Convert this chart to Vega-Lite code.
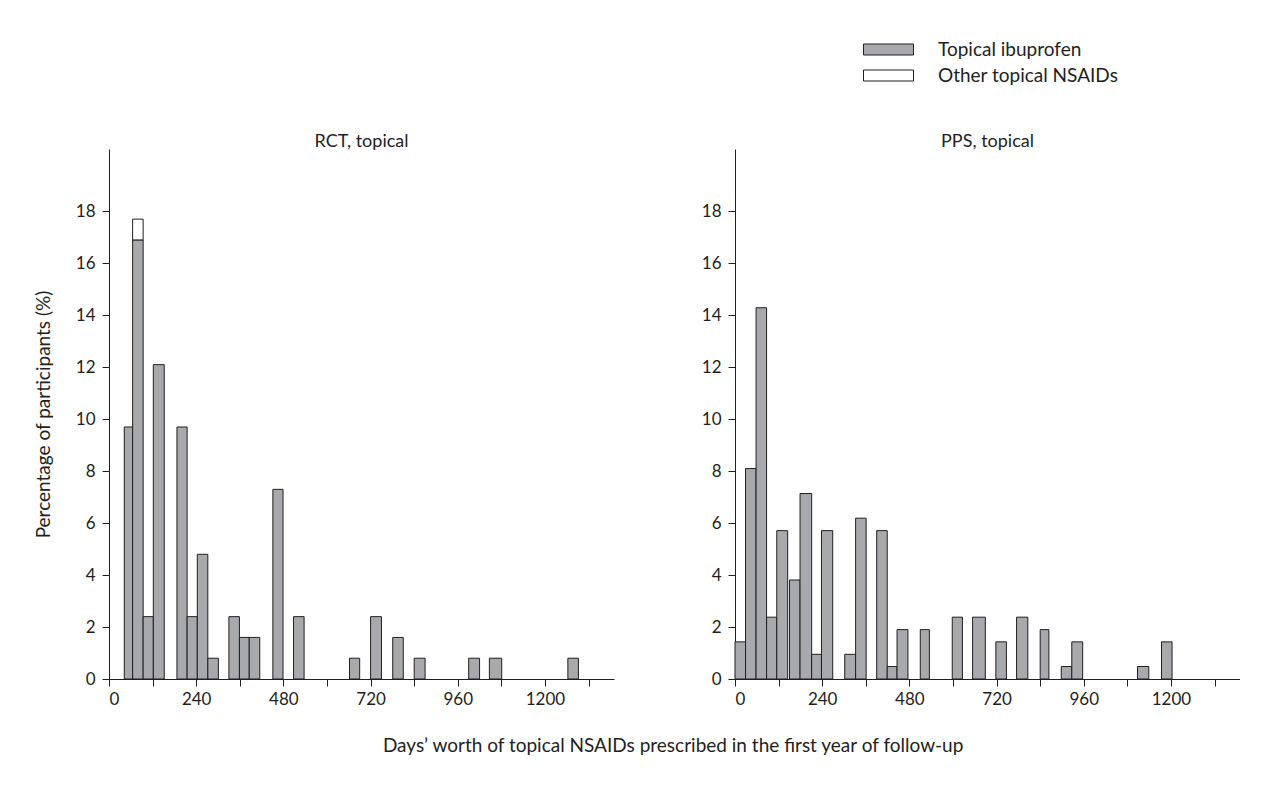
{
  "$schema": "https://vega.github.io/schema/vega-lite/v6.json",
  "background": "white",
  "padding": {"left": 34, "top": 40, "right": 0, "bottom": 0},
  "bounds": "flush",
  "spacing": 121,
  "datasets": {
    "bars": [
      {"panel": "RCT", "x0": 42, "x1": 65, "pct": 9.7, "type": "Topical ibuprofen"},
      {"panel": "RCT", "x0": 65, "x1": 94, "pct": 16.9, "type": "Topical ibuprofen"},
      {"panel": "RCT", "x0": 65, "x1": 94, "pct": 0.8, "type": "Other topical NSAIDs"},
      {"panel": "RCT", "x0": 94, "x1": 122, "pct": 2.4, "type": "Topical ibuprofen"},
      {"panel": "RCT", "x0": 122, "x1": 152, "pct": 12.1, "type": "Topical ibuprofen"},
      {"panel": "RCT", "x0": 187, "x1": 215, "pct": 9.7, "type": "Topical ibuprofen"},
      {"panel": "RCT", "x0": 215, "x1": 243, "pct": 2.4, "type": "Topical ibuprofen"},
      {"panel": "RCT", "x0": 243, "x1": 272, "pct": 4.8, "type": "Topical ibuprofen"},
      {"panel": "RCT", "x0": 272, "x1": 301, "pct": 0.8, "type": "Topical ibuprofen"},
      {"panel": "RCT", "x0": 330, "x1": 359, "pct": 2.4, "type": "Topical ibuprofen"},
      {"panel": "RCT", "x0": 359, "x1": 386, "pct": 1.6, "type": "Topical ibuprofen"},
      {"panel": "RCT", "x0": 386, "x1": 415, "pct": 1.6, "type": "Topical ibuprofen"},
      {"panel": "RCT", "x0": 451, "x1": 479, "pct": 7.3, "type": "Topical ibuprofen"},
      {"panel": "RCT", "x0": 508, "x1": 537, "pct": 2.4, "type": "Topical ibuprofen"},
      {"panel": "RCT", "x0": 662, "x1": 690, "pct": 0.8, "type": "Topical ibuprofen"},
      {"panel": "RCT", "x0": 720, "x1": 750, "pct": 2.4, "type": "Topical ibuprofen"},
      {"panel": "RCT", "x0": 781, "x1": 810, "pct": 1.6, "type": "Topical ibuprofen"},
      {"panel": "RCT", "x0": 840, "x1": 870, "pct": 0.8, "type": "Topical ibuprofen"},
      {"panel": "RCT", "x0": 990, "x1": 1020, "pct": 0.8, "type": "Topical ibuprofen"},
      {"panel": "RCT", "x0": 1047, "x1": 1081, "pct": 0.8, "type": "Topical ibuprofen"},
      {"panel": "RCT", "x0": 1263, "x1": 1292, "pct": 0.8, "type": "Topical ibuprofen"},
      {"panel": "PPS", "x0": 0, "x1": 29, "pct": 1.43, "type": "Topical ibuprofen"},
      {"panel": "PPS", "x0": 29, "x1": 58, "pct": 8.1, "type": "Topical ibuprofen"},
      {"panel": "PPS", "x0": 58, "x1": 87, "pct": 14.29, "type": "Topical ibuprofen"},
      {"panel": "PPS", "x0": 87, "x1": 115, "pct": 2.38, "type": "Topical ibuprofen"},
      {"panel": "PPS", "x0": 115, "x1": 145, "pct": 5.71, "type": "Topical ibuprofen"},
      {"panel": "PPS", "x0": 150, "x1": 179, "pct": 3.81, "type": "Topical ibuprofen"},
      {"panel": "PPS", "x0": 179, "x1": 211, "pct": 7.14, "type": "Topical ibuprofen"},
      {"panel": "PPS", "x0": 211, "x1": 238, "pct": 0.95, "type": "Topical ibuprofen"},
      {"panel": "PPS", "x0": 238, "x1": 269, "pct": 5.71, "type": "Topical ibuprofen"},
      {"panel": "PPS", "x0": 302, "x1": 332, "pct": 0.95, "type": "Topical ibuprofen"},
      {"panel": "PPS", "x0": 332, "x1": 361, "pct": 6.19, "type": "Topical ibuprofen"},
      {"panel": "PPS", "x0": 390, "x1": 419, "pct": 5.71, "type": "Topical ibuprofen"},
      {"panel": "PPS", "x0": 419, "x1": 446, "pct": 0.48, "type": "Topical ibuprofen"},
      {"panel": "PPS", "x0": 446, "x1": 476, "pct": 1.9, "type": "Topical ibuprofen"},
      {"panel": "PPS", "x0": 510, "x1": 535, "pct": 1.9, "type": "Topical ibuprofen"},
      {"panel": "PPS", "x0": 598, "x1": 626, "pct": 2.38, "type": "Topical ibuprofen"},
      {"panel": "PPS", "x0": 654, "x1": 689, "pct": 2.38, "type": "Topical ibuprofen"},
      {"panel": "PPS", "x0": 718, "x1": 747, "pct": 1.43, "type": "Topical ibuprofen"},
      {"panel": "PPS", "x0": 775, "x1": 806, "pct": 2.38, "type": "Topical ibuprofen"},
      {"panel": "PPS", "x0": 840, "x1": 864, "pct": 1.9, "type": "Topical ibuprofen"},
      {"panel": "PPS", "x0": 898, "x1": 927, "pct": 0.48, "type": "Topical ibuprofen"},
      {"panel": "PPS", "x0": 927, "x1": 957, "pct": 1.43, "type": "Topical ibuprofen"},
      {"panel": "PPS", "x0": 1108, "x1": 1139, "pct": 0.48, "type": "Topical ibuprofen"},
      {"panel": "PPS", "x0": 1174, "x1": 1203, "pct": 1.43, "type": "Topical ibuprofen"}
    ]
  },
  "config": {
    "font": "Lato",
    "view": {"stroke": null},
    "axis": {
      "domainColor": "#231f20",
      "tickColor": "#231f20",
      "labelColor": "#231f20",
      "titleColor": "#231f20",
      "labelFontSize": 17,
      "titleFontSize": 19,
      "titleFontWeight": "normal",
      "grid": false,
      "tickSize": 7,
      "domainWidth": 1,
      "tickWidth": 1
    },
    "title": {"fontSize": 18, "fontWeight": "normal", "color": "#231f20"},
    "legend": {
      "orient": "none",
      "legendX": 770,
      "legendY": -109,
      "title": null,
      "padding": 0,
      "labelFontSize": 19,
      "labelLimit": 0,
      "labelColor": "#231f20",
      "labelOffset": 40,
      "rowPadding": 6,
      "symbolType": "M-5,-1.1H5V1.1H-5Z",
      "symbolSize": 100,
      "symbolStrokeColor": "#231f20",
      "symbolStrokeWidth": 1
    }
  },
  "title": {
    "text": "Days’ worth of topical NSAIDs prescribed in the first year of follow-up",
    "orient": "bottom",
    "anchor": "middle",
    "frame": "bounds",
    "fontSize": 19,
    "dx": 36,
    "offset": 30
  },
  "hconcat": [
    {
      "width": 505,
      "height": 530,
      "title": {"text": "RCT, topical", "offset": -2},
      "data": {"name": "bars"},
      "transform": [
        {"filter": "datum.panel === 'RCT'"},
        {"stack": "pct", "groupby": ["x0"], "sort": [{"field": "type", "order": "descending"}], "as": ["ylo", "yhi"]}
      ],
      "mark": {"type": "bar", "stroke": "#231f20", "strokeWidth": 1, "opacity": 1},
      "encoding": {
        "x": {"field": "x0", "type": "quantitative", "scale": {"domain": [0, 1390], "nice": false, "zero": true},
              "axis": {"title": null, "values": [0,120,240,360,480,600,720,840,960,1080,1200,1320], "format": "d", "labelExpr": "datum.value % 240 === 0 ? datum.label : ''", "labelPadding": 5}},
        "x2": {"field": "x1"},
        "y": {"field": "yhi", "type": "quantitative", "scale": {"domain": [0, 20.4], "nice": false},
              "axis": {"title": "Percentage of participants (%)", "values": [0,2,4,6,8,10,12,14,16,18], "labelPadding": 7, "titlePadding": 22}},
        "y2": {"field": "ylo"},
        "color": {"field": "type", "type": "nominal", "scale": {"domain": ["Topical ibuprofen", "Other topical NSAIDs"], "range": ["#a7a9ac", "#ffffff"]}}
      }
    },
    {
      "width": 505,
      "height": 530,
      "title": {"text": "PPS, topical", "offset": -2},
      "data": {"name": "bars"},
      "transform": [
        {"filter": "datum.panel === 'PPS'"},
        {"stack": "pct", "groupby": ["x0"], "sort": [{"field": "type", "order": "descending"}], "as": ["ylo", "yhi"]}
      ],
      "mark": {"type": "bar", "stroke": "#231f20", "strokeWidth": 1, "opacity": 1},
      "encoding": {
        "x": {"field": "x0", "type": "quantitative", "scale": {"domain": [0, 1390], "nice": false, "zero": true},
              "axis": {"title": null, "values": [0,120,240,360,480,600,720,840,960,1080,1200,1320], "format": "d", "labelExpr": "datum.value % 240 === 0 ? datum.label : ''", "labelPadding": 5}},
        "x2": {"field": "x1"},
        "y": {"field": "yhi", "type": "quantitative", "scale": {"domain": [0, 20.4], "nice": false},
              "axis": {"title": null, "values": [0,2,4,6,8,10,12,14,16,18], "labelPadding": 7}},
        "y2": {"field": "ylo"},
        "color": {"field": "type", "type": "nominal", "scale": {"domain": ["Topical ibuprofen", "Other topical NSAIDs"], "range": ["#a7a9ac", "#ffffff"]}}
      }
    }
  ]
}
